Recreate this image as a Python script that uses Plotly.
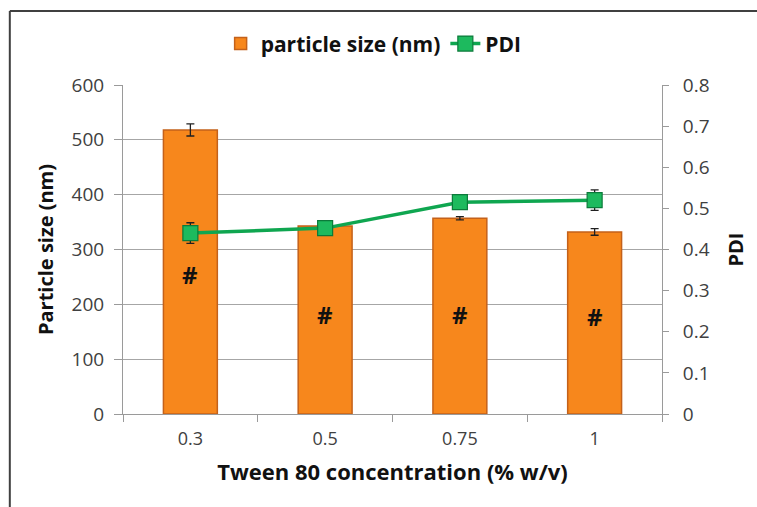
import plotly.graph_objects as go

categories = ["0.3", "0.5", "0.75", "1"]
particle_size = [518, 343, 357, 332]
particle_err = [11, 8, 3, 6]
pdi = [0.440, 0.452, 0.515, 0.520]
pdi_err = [0.025, 0.012, 0.005, 0.025]
mark_labels = ["#", "#", "#", "#"]
mark_y = [254, 181, 181, 178]

FONT = "Open Sans"
TXT = "#404040"

fig = go.Figure()
fig.add_trace(go.Bar(
    x=categories, y=particle_size, name="particle size (nm)",
    width=0.4,
    marker=dict(color="#F7871C", line=dict(color="#C4611A", width=1.5)),
    error_y=dict(type="data", array=particle_err, color="#202020", thickness=1.3, width=4),
))
fig.add_trace(go.Scatter(
    x=categories, y=pdi, name="PDI", yaxis="y2", mode="lines+markers",
    line=dict(color="#0FA650", width=3.5),
    marker=dict(symbol="square", size=15, color="#1DBA5E", line=dict(color="#0B7A3A", width=1.2)),
    error_y=dict(type="data", array=pdi_err, color="#202020", thickness=1.3, width=4),
))

for i, (t, yv) in enumerate(zip(mark_labels, mark_y)):
    fig.add_annotation(x=i, y=yv, xref="x", yref="y", text=t, showarrow=False,
                       font=dict(family=FONT, size=24, color="#111111", weight="bold"))

fig.update_layout(
    width=757, height=507,
    margin=dict(l=123, r=95, t=85, b=93),
    paper_bgcolor="white", plot_bgcolor="white",
    font=dict(family=FONT, color=TXT, size=17),
    showlegend=True,
    legend=dict(orientation="h", x=0.465, y=1.125, xanchor="center", yanchor="middle",
                font=dict(family=FONT, size=21, color="#111111", weight="bold"),
                itemwidth=30, tracegroupgap=0, bgcolor="rgba(0,0,0,0)"),
    bargap=0.6,
    xaxis=dict(
        type="category", showgrid=False, showline=True, linecolor="#9A9A9A", linewidth=1,
        ticks="outside", tickson="boundaries", ticklen=7, tickcolor="#9A9A9A",
        ticklabelstandoff=8,
        tickfont=dict(family=FONT, size=18, color=TXT),
        title=dict(text="Tween 80 concentration (% w/v)", standoff=16,
                   font=dict(family=FONT, size=22, color="#111111", weight="bold")),
    ),
    yaxis=dict(
        range=[0, 600], dtick=100, showgrid=True, gridcolor="#A6A6A6", gridwidth=1,
        showline=True, linecolor="#9A9A9A", linewidth=1, ticks="outside", ticklen=8,
        tickcolor="#9A9A9A", zeroline=False, ticklabelstandoff=6,
        tickfont=dict(family=FONT, size=19, color=TXT),
        title=dict(text="Particle size (nm)", standoff=12,
                   font=dict(family=FONT, size=20, color="#111111", weight="bold")),
    ),
    yaxis2=dict(
        range=[0, 0.8], dtick=0.1, overlaying="y", side="right", showgrid=False,
        showline=True, linecolor="#9A9A9A", linewidth=1, ticks="outside", ticklen=6,
        tickcolor="#9A9A9A", zeroline=False, tickformat="~g", ticklabelstandoff=10,
        tickfont=dict(family=FONT, size=19, color=TXT),
        title=dict(text="PDI", standoff=20,
                   font=dict(family=FONT, size=20, color="#111111", weight="bold")),
    ),
)

# outer frame (top and left edges visible in the reference)
fig.add_shape(type="line", xref="paper", yref="paper", x0=-0.21, x1=1.2, y0=1.225, y1=1.225,
              line=dict(color="#404040", width=2))
fig.add_shape(type="line", xref="paper", yref="paper", x0=-0.21, x1=-0.21, y0=1.225, y1=-0.3,
              line=dict(color="#404040", width=2))

fig.write_html("out.html")
